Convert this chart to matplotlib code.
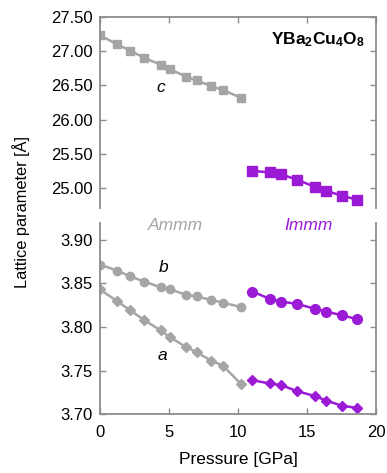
import matplotlib
matplotlib.use("Agg")
import matplotlib.pyplot as plt

plt.rcParams['font.family'] = ['Liberation Sans', 'DejaVu Sans']
plt.rcParams['mathtext.fontset'] = 'custom'
plt.rcParams['mathtext.rm'] = 'Liberation Sans'
plt.rcParams['mathtext.bf'] = 'Liberation Sans:bold'

GREY = '#a5a5a5'
PURPLE = '#9a1ad6'
SPINE = '#8c8c8c'

# Ammm phase (low pressure)
p_ammm = [0, 1.2, 2.2, 3.2, 4.4, 5.1, 6.25, 7.0, 8.05, 8.9, 10.2]
c_ammm = [27.23, 27.10, 27.005, 26.90, 26.80, 26.73, 26.625, 26.57, 26.49, 26.43, 26.32]
b_ammm = [3.8716, 3.8647, 3.858, 3.852, 3.8456, 3.843, 3.8368, 3.835, 3.831, 3.828, 3.8228]
a_ammm = [3.843, 3.830, 3.819, 3.808, 3.796, 3.788, 3.777, 3.771, 3.7615, 3.7558, 3.735]

# Immm phase (high pressure)
p_immm = [11.05, 12.3, 13.15, 14.3, 15.55, 16.4, 17.5, 18.65]
c_immm = [25.25, 25.23, 25.20, 25.12, 25.02, 24.96, 24.89, 24.83]
b_immm = [3.8406, 3.8322, 3.829, 3.8264, 3.821, 3.8177, 3.8135, 3.809]
a_immm = [3.739, 3.7353, 3.7333, 3.7264, 3.721, 3.7157, 3.710, 3.7072]

fig = plt.figure(figsize=(3.87, 4.73), dpi=100)
ax_top = fig.add_axes([0.2584, 0.5603, 0.7132, 0.4044])
ax_bot = fig.add_axes([0.2584, 0.1241, 0.7132, 0.4051])

ax_top.plot(p_ammm, c_ammm, color=GREY, marker='s', ms=6, lw=1.8)
ax_top.plot(p_immm, c_immm, color=PURPLE, marker='s', ms=6.5, lw=1.8)

ax_bot.plot(p_ammm, b_ammm, color=GREY, marker='o', ms=6, lw=1.8)
ax_bot.plot(p_ammm, a_ammm, color=GREY, marker='D', ms=5.5, lw=1.8)
ax_bot.plot(p_immm, b_immm, color=PURPLE, marker='o', ms=7, lw=1.8)
ax_bot.plot(p_immm, a_immm, color=PURPLE, marker='D', ms=5.5, lw=1.8)

for ax in (ax_top, ax_bot):
    ax.set_xlim(0, 20)
    ax.set_xticks([0, 5, 10, 15, 20])
    for s in ax.spines.values():
        s.set_color(SPINE)
        s.set_linewidth(1.3)
    ax.tick_params(direction='in', length=4, width=1, color=SPINE,
                   labelsize=12, top=True, right=True)
    ax.tick_params(axis='y', pad=5.5)
    ax.tick_params(axis='x', pad=8)

ax_top.set_ylim(24.71, 27.50)
ax_top.set_yticks([25.0, 25.5, 26.0, 26.5, 27.0, 27.5])
ax_top.set_yticklabels(['25.00', '25.50', '26.00', '26.50', '27.00', '27.50'])
ax_top.spines['bottom'].set_visible(False)
ax_top.tick_params(bottom=False, labelbottom=False)

ax_bot.set_ylim(3.70, 3.9195)
ax_bot.set_yticks([3.70, 3.75, 3.80, 3.85, 3.90])
ax_bot.set_yticklabels(['3.70', '3.75', '3.80', '3.85', '3.90'])
ax_bot.spines['top'].set_visible(False)
ax_bot.tick_params(top=False)
ax_bot.set_xlabel('Pressure [GPa]', fontsize=12.5, labelpad=8)

ax_top.text(4.4, 26.47, 'c', style='italic', fontsize=12.5, ha='center', va='center')
ax_top.text(19.2, 27.17, r'$\mathbf{YBa_2Cu_4O_8}$', fontsize=12.5, ha='right', va='center')
ax_bot.text(4.6, 3.8678, 'b', style='italic', fontsize=12.5, ha='center', va='center')
ax_bot.text(4.5, 3.767, 'a', style='italic', fontsize=12.5, ha='center', va='center')

fig.text(0.452, 0.524, 'Ammm', color=GREY, style='italic', fontsize=12.5, ha='center', va='center')
fig.text(0.798, 0.524, 'Immm', color=PURPLE, style='italic', fontsize=12.5, ha='center', va='center')
fig.text(0.054, 0.551, 'Lattice parameter [Å]', rotation=90, fontsize=11.8, ha='center', va='center')

fig.savefig('out.png', dpi=100)
